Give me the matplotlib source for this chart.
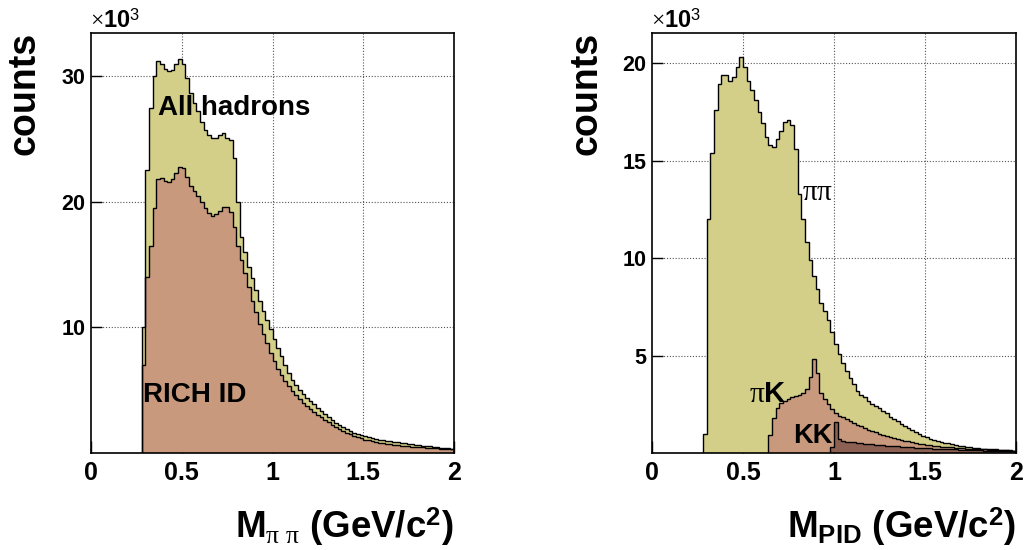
import matplotlib
matplotlib.use('Agg')
import matplotlib.pyplot as plt
import numpy as np

plt.rcParams['font.family'] = ['Liberation Sans', 'DejaVu Sans']
plt.rcParams['mathtext.fontset'] = 'custom'
plt.rcParams['mathtext.rm'] = 'Liberation Serif'
plt.rcParams['mathtext.it'] = 'Liberation Serif:italic'
plt.rcParams['mathtext.bf'] = 'Liberation Sans:bold'
plt.rcParams['mathtext.sf'] = 'Liberation Sans'

# ---------------- data (counts in units of 10^3, bin width 0.02 GeV/c^2) ----------------
BIN = 0.02

# Left panel: M_pipi
all_start = 0.28
all_hadrons = [10.0, 22.5, 27.5, 30.0, 31.2, 31.0, 30.6, 30.4, 30.5, 31.0,
               31.4, 31.0, 29.9, 28.7, 27.9, 27.2, 26.4, 25.7, 25.3, 25.1,
               25.1, 25.3, 25.5, 25.1, 24.9, 23.5, 20.0, 17.2, 16.0, 14.8,
               13.9, 13.0, 12.1, 11.3, 10.6, 9.9, 9.1, 8.4, 7.7, 7.0,
               6.4, 5.8, 5.4, 5.0, 4.7, 4.4, 4.15, 3.9, 3.6, 3.35,
               3.1, 2.85, 2.6, 2.4, 2.2, 2.05, 1.9, 1.75, 1.6, 1.5,
               1.4, 1.32, 1.24, 1.18, 1.12, 1.06, 1.01, 0.96, 0.92, 0.88,
               0.84, 0.8, 0.76, 0.72, 0.68, 0.64, 0.61, 0.58, 0.55, 0.52,
               0.49, 0.46, 0.43, 0.4, 0.37, 0.34]

rich_start = 0.28
rich_id = [7.0, 14.0, 16.5, 19.5, 21.8, 21.9, 21.7, 21.6, 21.8, 22.3,
           22.8, 22.7, 22.0, 21.3, 20.9, 20.5, 20.0, 19.5, 19.1, 18.9,
           19.0, 19.3, 19.6, 19.6, 19.2, 18.0, 16.5, 15.4, 14.3, 13.2,
           12.1, 11.2, 10.3, 9.5, 8.8, 8.0, 7.3, 6.7, 6.2, 5.7,
           5.3, 4.95, 4.6, 4.3, 4.0, 3.75, 3.5, 3.3, 3.05, 2.85,
           2.65, 2.45, 2.25, 2.05, 1.9, 1.75, 1.6, 1.48, 1.36, 1.26,
           1.16, 1.07, 1.0, 0.94, 0.88, 0.83, 0.78, 0.74, 0.7, 0.66,
           0.62, 0.59, 0.56, 0.53, 0.5, 0.48, 0.46, 0.44, 0.42, 0.4,
           0.38, 0.36, 0.35, 0.33, 0.32, 0.31]

# Right panel: M_PID
pipi_start = 0.28
pipi = [1.0, 12.0, 15.4, 17.6, 18.9, 19.4, 19.4, 19.1, 19.3, 19.8,
        20.3, 19.8, 19.1, 18.6, 18.1, 17.5, 16.9, 16.2, 15.8, 15.7,
        16.1, 16.5, 17.0, 17.1, 16.8, 15.6, 13.3, 12.0, 10.8, 9.9,
        9.1, 8.4, 7.7, 7.3, 6.8, 6.2, 5.6, 5.1, 4.6, 4.2,
        3.85, 3.55, 3.2, 3.0, 2.85, 2.65, 2.5, 2.4, 2.3, 2.15,
        2.05, 1.85, 1.72, 1.62, 1.5, 1.38, 1.26, 1.16, 1.06, 0.97,
        0.88, 0.8, 0.74, 0.68, 0.63, 0.58, 0.53, 0.49, 0.45, 0.41,
        0.38, 0.35, 0.32, 0.3, 0.27, 0.25, 0.23, 0.21, 0.2, 0.19,
        0.18, 0.17, 0.15, 0.14, 0.13, 0.12]

pik_start = 0.64
pik = [0.9, 1.8, 2.3, 2.55, 2.65, 2.75, 2.85, 2.9, 3.0, 3.1,
       3.3, 3.9, 4.8, 4.1, 3.1, 2.75, 2.5, 2.25, 2.05, 1.92,
       1.85, 1.72, 1.62, 1.52, 1.45, 1.36, 1.28, 1.2, 1.13, 1.06,
       1.0, 0.94, 0.88, 0.83, 0.77, 0.72, 0.67, 0.63, 0.59, 0.55,
       0.51, 0.47, 0.44, 0.41, 0.39, 0.37, 0.35, 0.33, 0.32, 0.3,
       0.29, 0.27, 0.26, 0.24, 0.23, 0.22, 0.21, 0.2, 0.19, 0.18,
       0.17, 0.16, 0.15, 0.15, 0.14, 0.13, 0.12, 0.12]

kk_start = 0.98
kk = [0.3, 1.6, 0.7, 0.62, 0.58, 0.56, 0.54, 0.52, 0.5, 0.48,
      0.46, 0.44, 0.42, 0.41, 0.4, 0.38, 0.36, 0.35, 0.34, 0.33,
      0.31, 0.3, 0.29, 0.28, 0.27, 0.26, 0.25, 0.24, 0.23, 0.22,
      0.21, 0.2, 0.2, 0.19, 0.18, 0.17, 0.16, 0.16, 0.15, 0.14,
      0.14, 0.13, 0.12, 0.12, 0.11, 0.1, 0.1, 0.09, 0.09, 0.08, 0.08]

xticks = [0, 0.5, 1, 1.5, 2]
xticklabels = ['0', '0.5', '1', '1.5', '2']
left_yticks = [10, 20, 30]
right_yticks = [5, 10, 15, 20]

C_YEL = '#d3cf88'
C_ORG = '#c9997d'
C_DRK = '#8c6052'

# ---------------- figure ----------------
W, H = 1025, 550
fig = plt.figure(figsize=(W / 100, H / 100), dpi=100)
axL = fig.add_axes([91 / W, 97 / H, 363 / W, 420 / H])
axR = fig.add_axes([652 / W, 97 / H, 364 / W, 420 / H])


def draw_hist(ax, start, vals, color):
    edges = start + BIN * np.arange(len(vals) + 1)
    ax.stairs(vals, edges, fill=True, facecolor=color, edgecolor='none', zorder=2)
    ax.stairs(vals, edges, color='black', lw=1.0, zorder=3)


def style(ax, yticks, ymax):
    ax.set_xlim(0, 2)
    ax.set_ylim(0, ymax)
    for x in xticks[1:-1]:
        ax.axvline(x, color='#555555', lw=0.8, ls=(0, (1, 1.6)), zorder=0.5)
    for y in yticks:
        ax.axhline(y, color='#555555', lw=0.8, ls=(0, (1, 1.6)), zorder=0.5)
    ax.set_xticks(xticks)
    ax.set_xticklabels(xticklabels, fontsize=18, fontweight='bold')
    ax.set_yticks(yticks)
    ax.set_yticklabels([str(v) for v in yticks], fontsize=15.5, fontweight='bold')
    ax.tick_params(axis='x', direction='in', length=9, width=1, pad=6)
    ax.tick_params(axis='y', direction='in', length=8, width=1, pad=4)
    ax.minorticks_off()
    for sp in ax.spines.values():
        sp.set_linewidth(1.2)
        sp.set_zorder(5)


# Left panel
draw_hist(axL, all_start, all_hadrons, C_YEL)
draw_hist(axL, rich_start, rich_id, C_ORG)
style(axL, left_yticks, 33.45)
axL.text(0.369, 26.9, 'All hadrons', fontsize=20, fontweight='bold', va='baseline', zorder=6)
axL.text(0.285, 4.05, 'RICH ID', fontsize=20, fontweight='bold', va='baseline', zorder=6)

# Right panel
draw_hist(axR, pipi_start, pipi, C_YEL)
draw_hist(axR, pik_start, pik, C_ORG)
draw_hist(axR, kk_start, kk, C_DRK)
style(axR, right_yticks, 21.54)
axR.text(0.826, 12.97, r'$\mathrm{\pi\pi}$', fontsize=21, va='baseline', zorder=6)
axR.text(0.533, 2.63, r'$\mathrm{\pi}\mathbf{K}$', fontsize=21, va='baseline', zorder=6)
axR.text(0.773, 0.53, 'KK', fontsize=19.5, fontweight='bold', va='baseline', zorder=6)

# Multipliers
for x0 in (90, 651):
    fig.text(x0 / W, 1 - 28 / H, r'$\mathrm{\times}\mathbf{10}^{\mathsf{3}}$',
             fontsize=17, va='baseline', ha='left')

# Axis titles
fig.text(24 / W, 1 - 32 / H, 'counts', rotation=90, fontsize=27, fontweight='bold', ha='center', va='top')
fig.text(586 / W, 1 - 32 / H, 'counts', rotation=90, fontsize=27, fontweight='bold', ha='center', va='top')
fig.text(454 / W, 1 - 538 / H, r'$\mathbf{M}_{\mathrm{\pi\ \pi}}$ (GeV/c$^{\mathbf{2}}$)',
         fontsize=26.5, fontweight='bold', ha='right', va='baseline')
fig.text(1016 / W, 1 - 538 / H, r'$\mathbf{M}_{\mathbf{PID}}$ (GeV/c$^{\mathbf{2}}$)',
         fontsize=26.5, fontweight='bold', ha='right', va='baseline')

fig.savefig('out.png', dpi=100)
